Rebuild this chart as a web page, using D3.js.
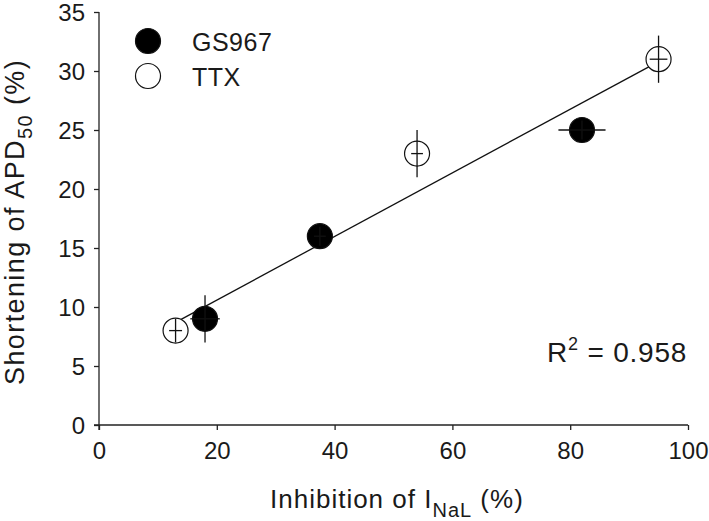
<!DOCTYPE html>
<html>
<head>
<meta charset="utf-8">
<script src="https://cdn.jsdelivr.net/npm/d3@7/dist/d3.min.js"></script>
<style>
  html, body { margin: 0; padding: 0; background: #fff; }
  svg { display: block; font-family: "Liberation Sans", Arial, sans-serif; }
</style>
</head>
<body>
<svg id="chart" width="709" height="521"></svg>
<script>
// ---- data ----
const gsX = [18, 37.5, 82];
const gsY = [9, 16, 25];
const gsXErr = [2.5, 1, 4];
const gsYErr = [2, 0.8, 0.8];

const ttxX = [13, 54, 95];
const ttxY = [8, 23, 31];
const ttxXErr = [1.1, 1, 1.5];
const ttxYErr = [1, 2, 2];

const fitX = [13, 95];
const fitY = [8.7, 30.8];

const xTicks = [0, 20, 40, 60, 80, 100];
const xMinorTicks = [10, 30, 50, 70, 90];
const yTicks = [0, 5, 10, 15, 20, 25, 30, 35];

const seriesNames = ["GS967", "TTX"];
const r2Label = "0.958";

// ---- layout ----
const svg = d3.select("#chart");
const x = d3.scaleLinear().domain([0, 100]).range([99, 688]);
const y = d3.scaleLinear().domain([0, 35]).range([425, 12]);
const R = 12.5;
const FONT = "Liberation Sans, Arial, sans-serif";

// axes
const gx = svg.append("g").attr("transform", "translate(0,425)");
gx.call(d3.axisBottom(x).tickValues(xMinorTicks).tickSize(3).tickFormat(""));
gx.call(d3.axisBottom(x).tickValues(xTicks).tickSize(5).tickPadding(12).tickFormat(d3.format("d")));
gx.select(".domain").attr("d", `M${x(0) - 5},0H${x(100)}`);
gx.selectAll("text").attr("font-size", 24).attr("font-family", FONT).attr("fill", "#1a1a1a");

const gy = svg.append("g").attr("transform", "translate(99,0)");
gy.call(d3.axisLeft(y).tickValues(yTicks).tickSize(5).tickPadding(9).tickFormat(d3.format("d")));
gy.select(".domain").attr("d", `M0,${y(35)}V${y(0) + 5}`);
gy.selectAll("text").attr("font-size", 24).attr("font-family", FONT).attr("fill", "#1a1a1a").attr("dy", "0.36em");
svg.selectAll(".domain, .tick line").attr("stroke", "#222").attr("stroke-width", 1.3);

// regression line
svg.append("line")
  .attr("x1", x(fitX[0])).attr("y1", y(fitY[0]))
  .attr("x2", x(fitX[1])).attr("y2", y(fitY[1]))
  .attr("stroke", "#111").attr("stroke-width", 1.3);

function drawSeries(xs, ys, xe, ye, fill) {
  const pts = xs.map((d, i) => ({ x: d, y: ys[i], xe: xe[i], ye: ye[i] }));
  const g = svg.append("g");
  g.selectAll("circle").data(pts).enter().append("circle")
    .attr("cx", d => x(d.x)).attr("cy", d => y(d.y)).attr("r", R)
    .attr("fill", fill).attr("stroke", "#111").attr("stroke-width", 1.2);
  g.selectAll("line.h").data(pts).enter().append("line").attr("class", "h")
    .attr("x1", d => x(d.x - d.xe)).attr("x2", d => x(d.x + d.xe))
    .attr("y1", d => y(d.y)).attr("y2", d => y(d.y))
    .attr("stroke", "#111").attr("stroke-width", 1.3);
  g.selectAll("line.v").data(pts).enter().append("line").attr("class", "v")
    .attr("x1", d => x(d.x)).attr("x2", d => x(d.x))
    .attr("y1", d => y(d.y - d.ye)).attr("y2", d => y(d.y + d.ye))
    .attr("stroke", "#111").attr("stroke-width", 1.3);
}
drawSeries(ttxX, ttxY, ttxXErr, ttxYErr, "#fff");
drawSeries(gsX, gsY, gsXErr, gsYErr, "#000");

// legend
const legend = svg.append("g");
const legFills = ["#000", "#fff"];
seriesNames.forEach((name, i) => {
  legend.append("circle").attr("cx", 148).attr("cy", 41 + i * 35).attr("r", R)
    .attr("fill", legFills[i]).attr("stroke", "#111").attr("stroke-width", 1.2);
  legend.append("text").attr("x", 192).attr("y", 51 + i * 35)
    .attr("font-size", 25).attr("letter-spacing", 0.5).attr("fill", "#1a1a1a").text(name);
});

// R^2
const r2 = svg.append("text").attr("x", 547).attr("y", 362).attr("font-size", 28)
  .attr("letter-spacing", 0.8).attr("fill", "#1a1a1a");
r2.append("tspan").text("R");
r2.append("tspan").attr("font-size", 18).attr("dy", -12).text("2");
r2.append("tspan").attr("dy", 12).text(" = " + r2Label);

// x title
const xt = svg.append("text").attr("x", 270).attr("y", 508)
  .attr("font-size", 26).attr("letter-spacing", 1.0).attr("fill", "#1a1a1a");
xt.append("tspan").text("Inhibition of I");
xt.append("tspan").attr("font-size", 20).attr("dy", 9).text("NaL");
xt.append("tspan").attr("dy", -9).text(" (%)");

// y title
const yt = svg.append("text").attr("transform", "translate(24,385) rotate(-90)")
  .attr("font-size", 27).attr("letter-spacing", 1.4).attr("fill", "#1a1a1a");
yt.append("tspan").text("Shortening of APD");
yt.append("tspan").attr("font-size", 20).attr("dy", 8).text("50");
yt.append("tspan").attr("dy", -8).text(" (%)");
</script>
</body>
</html>
